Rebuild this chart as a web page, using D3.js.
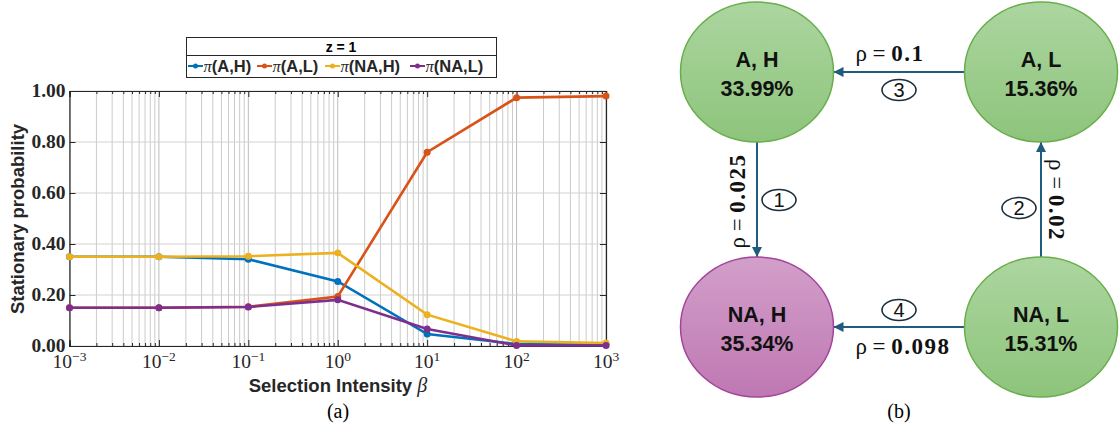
<!DOCTYPE html>
<html><head><meta charset="utf-8">
<script src="https://cdn.jsdelivr.net/npm/d3@7"></script>
<style>body{margin:0;background:#fff}svg{display:block}</style>
</head><body>
<svg id="c" width="1119" height="430"></svg>
<script>
// ---- data ----
const betas = [1e-3, 1e-2, 1e-1, 1, 10, 100, 1000];
const seriesNames = ["(A,H)", "(A,L)", "(NA,H)", "(NA,L)"];
const piAH  = [0.350, 0.350, 0.340, 0.253, 0.047, 0.008, 0.005];
const piAL  = [0.150, 0.150, 0.154, 0.194, 0.760, 0.974, 0.980];
const piNAH = [0.350, 0.350, 0.352, 0.365, 0.123, 0.018, 0.012];
const piNAL = [0.150, 0.150, 0.153, 0.181, 0.067, 0.002, 0.002];
const yTicks = [0, 0.2, 0.4, 0.6, 0.8, 1.0];
const xTickExps = [-3, -2, -1, 0, 1, 2, 3];
const colors = ["#0072BD", "#D95319", "#EDB120", "#7E2F8E"];

const nodeNames = ["A, H", "A, L", "NA, H", "NA, L"];
const nodePct = ["33.99%", "15.36%", "35.34%", "15.31%"];
const edgeRho = ["0.025", "0.02", "0.1", "0.098"];   // edges 1..4
const edgeNum = ["1", "2", "3", "4"];

const svg = d3.select("#c");
const L = 69.5, R = 606, T = 91, B = 346;
const x = d3.scaleLog().domain([1e-3, 1e3]).range([L, R]);
const y = d3.scaleLinear().domain([0, 1]).range([B, T]);

// grid
const g = svg.append("g");
const minor = [];
for (let e = -3; e < 3; e++) for (let k = 2; k <= 9; k++) minor.push(k * Math.pow(10, e));
g.selectAll(".vm").data(minor).enter().append("line")
  .attr("x1", d => x(d)).attr("x2", d => x(d)).attr("y1", T).attr("y2", B)
  .attr("stroke", "#cbcbcb").attr("stroke-width", 1);
g.selectAll(".vM").data(betas).enter().append("line")
  .attr("x1", d => x(d)).attr("x2", d => x(d)).attr("y1", T).attr("y2", B)
  .attr("stroke", "#bcbcbc").attr("stroke-width", 1);
g.selectAll(".h").data(yTicks).enter().append("line")
  .attr("x1", L).attr("x2", R).attr("y1", d => y(d)).attr("y2", d => y(d))
  .attr("stroke", "#d2d2d2").attr("stroke-width", 1);

// axes
const axB = d3.axisBottom(x).tickValues(betas).tickSize(-6).tickFormat("");
const axT = d3.axisTop(x).tickValues(betas).tickSize(-6).tickFormat("");
const axBm = d3.axisBottom(x).tickValues(minor).tickSize(-3).tickFormat("");
const axTm = d3.axisTop(x).tickValues(minor).tickSize(-3).tickFormat("");
const axL = d3.axisLeft(y).tickValues(yTicks).tickSize(-6).tickFormat(d3.format(".2f"));
const axR = d3.axisRight(y).tickValues(yTicks).tickSize(-6).tickFormat("");
function styleAx(s){ s.select(".domain").attr("stroke","#262626").attr("stroke-width",1.2); s.selectAll(".tick line").attr("stroke","#262626"); }
svg.append("g").attr("transform",`translate(0,${B})`).call(axB).call(styleAx);
svg.append("g").attr("transform",`translate(0,${B})`).call(axBm).call(styleAx);
svg.append("g").attr("transform",`translate(0,${T})`).call(axT).call(styleAx);
svg.append("g").attr("transform",`translate(0,${T})`).call(axTm).call(styleAx);
const yl = svg.append("g").attr("transform",`translate(${L},0)`).call(axL).call(styleAx);
yl.selectAll("text").attr("x", -4).attr("dy","0.28em").attr("font-family","'Liberation Serif',serif").attr("font-size",19.5).attr("fill","#262626").attr("font-weight","bold");
svg.append("g").attr("transform",`translate(${R},0)`).call(axR).call(styleAx);

// x tick labels 10^e
svg.selectAll(".xl").data(xTickExps).enter().append("text")
  .attr("x", d => x(Math.pow(10, d))).attr("y", B + 22)
  .attr("text-anchor","middle").attr("font-family","'Liberation Serif',serif")
  .attr("font-size",19.5).attr("fill","#262626")
  .each(function(d){
    const t = d3.select(this);
    t.append("tspan").text("10");
    t.append("tspan").attr("dy",-7).attr("font-size",13.5).text(d < 0 ? "\u2212" + (-d) : String(d));
  });

// lines
const allSeries = [piAH, piAL, piNAH, piNAL];
const line = d3.line().x((d,i) => x(betas[i])).y(d => y(d));
allSeries.forEach((s, k) => {
  svg.append("path").datum(s).attr("d", line).attr("fill","none")
    .attr("stroke", colors[k]).attr("stroke-width", 2.6);
  svg.selectAll(".m"+k).data(s).enter().append("circle")
    .attr("cx",(d,i)=>x(betas[i])).attr("cy",d=>y(d)).attr("r",3.5).attr("fill",colors[k]);
});

// axis labels
svg.append("text").attr("transform","translate(24,219) rotate(-90)").attr("text-anchor","middle")
  .attr("font-family","'Liberation Sans',Arial,sans-serif").attr("font-weight","bold").attr("font-size",18.5)
  .attr("fill","#262626").text("Stationary probability");
const xl = svg.append("text").attr("x",338).attr("y",392).attr("text-anchor","middle")
  .attr("font-family","'Liberation Sans',Arial,sans-serif").attr("font-weight","bold").attr("font-size",18.5).attr("fill","#262626");
xl.append("tspan").text("Selection Intensity ");
xl.append("tspan").attr("font-family","'Liberation Serif',serif").attr("font-style","italic").attr("font-weight","normal").attr("font-size",20).text("\u03B2");
svg.append("text").attr("x",338).attr("y",418).attr("text-anchor","middle")
  .attr("font-family","'Liberation Serif',serif").attr("font-size",20).text("(a)");

// legend
const lg = svg.append("g");
lg.append("rect").attr("x",186.5).attr("y",37.5).attr("width",310).attr("height",40)
  .attr("fill","#fff").attr("stroke","#262626").attr("stroke-width",1);
lg.append("line").attr("x1",186.5).attr("x2",496.5).attr("y1",55.5).attr("y2",55.5).attr("stroke","#262626");
lg.append("text").attr("x",341).attr("y",51.5).attr("text-anchor","middle")
  .attr("font-family","'Liberation Sans',Arial,sans-serif").attr("font-weight","bold").attr("font-size",14).text("z = 1");
const legX = [188, 257, 325, 410];
seriesNames.forEach((n, k) => {
  const gx = legX[k];
  lg.append("line").attr("x1",gx).attr("x2",gx+15).attr("y1",66).attr("y2",66).attr("stroke",colors[k]).attr("stroke-width",2);
  lg.append("circle").attr("cx",gx+7.5).attr("cy",66).attr("r",2.5).attr("fill",colors[k]);
  const t = lg.append("text").attr("x",gx+15.5).attr("y",72).attr("font-size",16.5).attr("fill","#262626");
  t.append("tspan").attr("font-family","'Liberation Serif',serif").attr("font-style","italic").text("\u03C0");
  t.append("tspan").attr("font-family","'Liberation Sans',Arial,sans-serif").attr("font-weight","bold").text(n);
});

// ---- diagram (b) ----
const defs = svg.append("defs");
function grad(id, c1, c2){
  const gr = defs.append("linearGradient").attr("id",id).attr("x1",0).attr("y1",0).attr("x2",0).attr("y2",1);
  gr.append("stop").attr("offset","0%").attr("stop-color",c1);
  gr.append("stop").attr("offset","100%").attr("stop-color",c2);
}
grad("gG","#acd6a0","#8dc47b");
grad("gP","#d29fca","#bf78b2");
const mk = defs.append("marker").attr("id","arr").attr("viewBox","0 0 10 10").attr("refX",10).attr("refY",5)
  .attr("markerWidth",10).attr("markerHeight",10).attr("orient","auto-start-reverse").attr("markerUnits","userSpaceOnUse");
mk.append("path").attr("d","M0,0 L10,5 L0,10 z").attr("fill","#1f5c7e");

const cx = [757, 1041, 757, 1041], cy = [72, 72, 327, 327];
const rx = 76.5, ry = 70;
const arrowCol = "#1f5c7e";
// edges: 1: AH->NAH, 2: NAL->AL, 3: AL->AH, 4: NAL->NAH
const edges = [
  {x1:757, y1:cy[0]+ry, x2:757, y2:cy[2]-ry},
  {x1:1041, y1:cy[3]-ry, x2:1041, y2:cy[1]+ry},
  {x1:cx[1]-rx, y1:72, x2:cx[0]+rx, y2:72},
  {x1:cx[3]-rx, y1:327, x2:cx[2]+rx, y2:327}
];
svg.selectAll(".edge").data(edges).enter().append("line")
  .attr("x1",d=>d.x1).attr("y1",d=>d.y1).attr("x2",d=>d.x2).attr("y2",d=>d.y2)
  .attr("stroke",arrowCol).attr("stroke-width",2).attr("marker-end","url(#arr)");

const fills = ["url(#gG)","url(#gG)","url(#gP)","url(#gG)"];
const strokes = ["#6aad4c","#6aad4c","#a2449b","#6aad4c"];
nodeNames.forEach((n,i)=>{
  svg.append("ellipse").attr("cx",cx[i]).attr("cy",cy[i]).attr("rx",rx).attr("ry",ry)
    .attr("fill",fills[i]).attr("stroke",strokes[i]).attr("stroke-width",1.5);
  svg.append("text").attr("x",cx[i]).attr("y",cy[i]-5).attr("text-anchor","middle")
    .attr("font-family","'Liberation Sans',Arial,sans-serif").attr("font-weight","bold").attr("font-size",21.5).attr("fill","#111").text(n);
  svg.append("text").attr("x",cx[i]).attr("y",cy[i]+24).attr("text-anchor","middle")
    .attr("font-family","'Liberation Sans',Arial,sans-serif").attr("font-weight","bold").attr("font-size",21.5).attr("fill","#111").text(nodePct[i]);
});

// rho labels
function rho(sel, val){
  sel.attr("font-family","'Liberation Serif',serif").attr("font-size",23).attr("fill","#111").attr("text-anchor","middle");
  sel.append("tspan").text("\u03C1 = ");
  sel.append("tspan").attr("font-weight","bold").attr("letter-spacing",1.5).text(val);
}
rho(svg.append("text").attr("transform","translate(745,201) rotate(-90)"), edgeRho[0]);
rho(svg.append("text").attr("transform","translate(1049,200) rotate(90)"), edgeRho[1]);
rho(svg.append("text").attr("x",890).attr("y",61), edgeRho[2]);
rho(svg.append("text").attr("x",903).attr("y",354), edgeRho[3]);

// numbered ovals
const numPos = [[779,200],[1019,208],[899,90],[899,310]];
numPos.forEach((p,i)=>{
  svg.append("ellipse").attr("cx",p[0]).attr("cy",p[1]).attr("rx",17).attr("ry",10.5)
    .attr("fill","none").attr("stroke","#1a2e3c").attr("stroke-width",1.6);
  svg.append("text").attr("x",p[0]).attr("y",p[1]+7).attr("text-anchor","middle")
    .attr("font-family","'Liberation Sans',Arial,sans-serif").attr("font-size",20).attr("fill","#111").text(edgeNum[i]);
});
svg.append("text").attr("x",899).attr("y",418).attr("text-anchor","middle")
  .attr("font-family","'Liberation Serif',serif").attr("font-size",20).text("(b)");
</script>
</body></html>
